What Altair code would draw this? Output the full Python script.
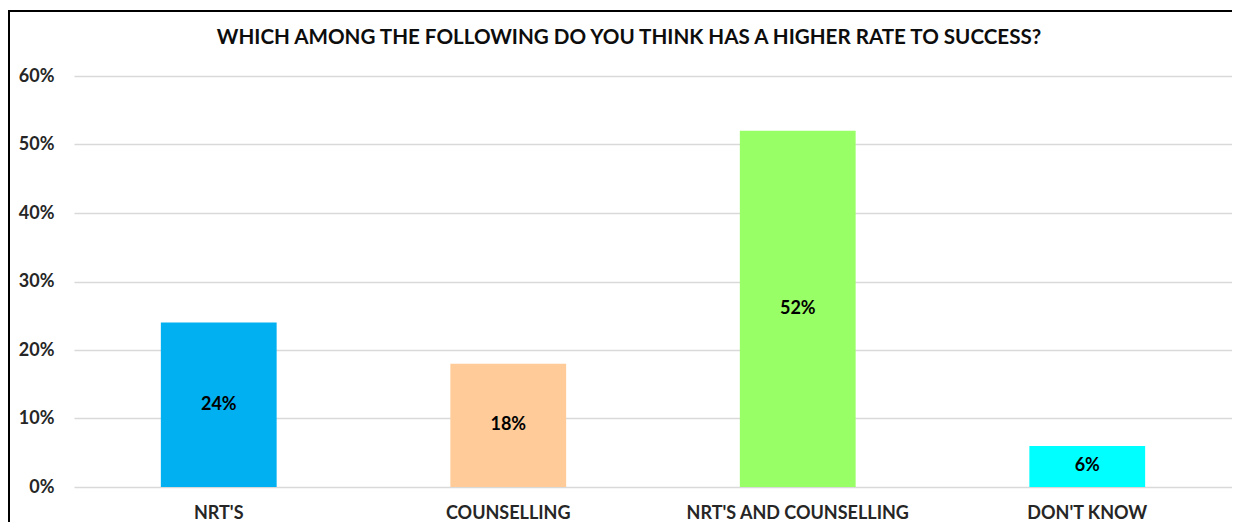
import altair as alt
import pandas as pd

categories = ["NRT'S", "COUNSELLING", "NRT'S AND COUNSELLING", "DON'T KNOW"]
values = [0.24, 0.18, 0.52, 0.06]
colors = ["#00B0F0", "#FFCC99", "#99FF66", "#00FFFF"]
y_ticks = [0, 0.1, 0.2, 0.3, 0.4, 0.5, 0.6]

df = pd.DataFrame({"cat": categories, "value": values, "color": colors})

FONT = "Lato"

base = alt.Chart(df).encode(
    x=alt.X(
        "cat:N",
        sort=categories,
        scale=alt.Scale(paddingInner=0.6, paddingOuter=0.3),
        axis=alt.Axis(
            title=None, labelAngle=0, domain=False, ticks=False, tickSize=0,
            labelPadding=17, labelFont=FONT, labelFontWeight="bold",
            labelFontSize=18, labelColor="#262626", labelLimit=0,
        ),
    )
)

bars = base.mark_bar().encode(
    y=alt.Y(
        "value:Q",
        scale=alt.Scale(domain=[0, 0.6]),
        axis=alt.Axis(
            title=None, format=".0%", values=y_ticks, domain=False, ticks=False,
            tickSize=0, labelPadding=20, labelFont=FONT, labelFontWeight="bold",
            labelFontSize=18, labelColor="#262626", gridColor="#d9d9d9",
            gridWidth=1.5,
        ),
    ),
    color=alt.Color("color:N", scale=None),
)

labels = base.transform_calculate(mid="datum.value / 2").mark_text(
    font=FONT, fontWeight="bold", fontSize=18, color="#000000", baseline="middle"
).encode(
    y=alt.Y("mid:Q"),
    text=alt.Text("value:Q", format=".0%"),
)

frame_df = pd.DataFrame({"b": [1]})
border_top = alt.Chart(frame_df).mark_rule(
    stroke="#000000", strokeWidth=2, clip=False
).encode(x=alt.value(-66), x2=alt.value(1160), y=alt.value(-65))
border_left = alt.Chart(frame_df).mark_rule(
    stroke="#000000", strokeWidth=2, clip=False
).encode(x=alt.value(-65), y=alt.value(-66), y2=alt.value(446))

chart = alt.layer(bars, labels, border_top, border_left).properties(
    width=1158,
    height=411,
    padding={"left": 66, "top": 68, "right": 0, "bottom": 35},
    autosize=alt.AutoSizeParams(type="none"),
    title=alt.TitleParams(
        "WHICH AMONG THE FOLLOWING DO YOU THINK HAS A HIGHER RATE TO SUCCESS?",
        font=FONT, fontWeight="bold", fontSize=20.6, color="#0d0d0d",
        anchor="middle", dx=-24, offset=-40, frame="group",
    ),
).configure_view(stroke=None)

chart.save("out.html", embed_options={"renderer": "svg", "actions": False})
